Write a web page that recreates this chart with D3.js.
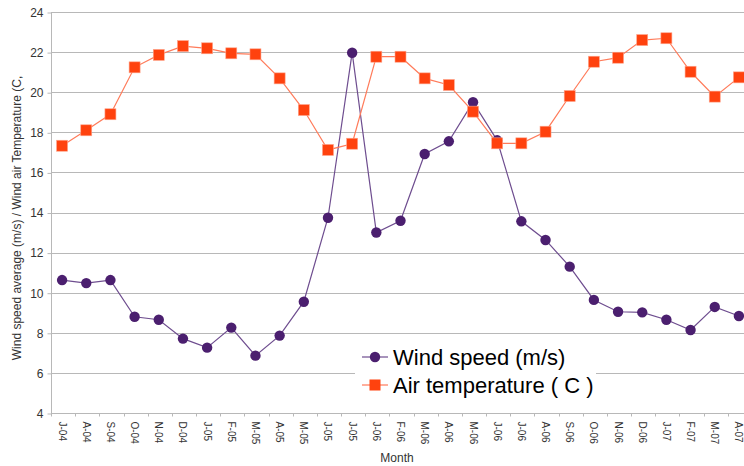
<!DOCTYPE html>
<html>
<head>
<meta charset="utf-8">
<script src="https://cdn.jsdelivr.net/npm/d3@7"></script>
<style>
  body { margin: 0; background: #fff; }
  text { font-family: "Liberation Sans", Arial, sans-serif; }
</style>
</head>
<body>
<script>
// month labels (as printed on the chart)
const months = ['J-04', 'A-04', 'S-04', 'O-04', 'N-04', 'D-04', 'J-05', 'F-05', 'M-05', 'A-05',
  'M-05', 'J-05', 'J-05', 'J-06', 'F-06', 'M-06', 'A-06', 'M-06', 'J-06', 'J-06',
  'A-06', 'S-06', 'O-06', 'N-06', 'D-06', 'J-07', 'F-07', 'M-07', 'A-07'];

// wind speed (m/s)
const windSpeed = [10.63, 10.48, 10.63, 8.8, 8.65, 7.71, 7.26, 8.26, 6.86, 7.86,
  9.55, 13.74, 21.97, 13.0, 13.59, 16.92, 17.55, 19.5, 17.6, 13.56,
  12.63, 11.3, 9.64, 9.05, 9.02, 8.65, 8.14, 9.29, 8.84];

// air temperature (C)
const airTemp = [17.33, 18.1, 18.9, 21.24, 21.86, 22.3, 22.19, 21.94, 21.89, 20.69,
  19.11, 17.12, 17.43, 21.77, 21.77, 20.69, 20.36, 19.03, 17.45, 17.45,
  18.03, 19.81, 21.52, 21.72, 22.6, 22.69, 21.02, 19.78, 20.74];

const yTicks = [4, 6, 8, 10, 12, 14, 16, 18, 20, 22, 24];

const width = 744;
const height = 466;
const margin = {top: 12, right: -8, bottom: 53, left: 51};

const svg = d3.select('body')
  .append('svg')
  .attr('width', width)
  .attr('height', height);

const xScale = d3.scaleBand()
  .domain(d3.range(months.length))
  .range([margin.left, width - margin.right]);

const yScale = d3.scaleLinear()
  .domain([4, 24])
  .range([height - margin.bottom, margin.top]);

// points sit about a pixel left of the band centre
const cx = i => xScale(i) + xScale.bandwidth() / 2 - 1;

// horizontal grid lines
svg.append('g')
  .selectAll('line')
  .data(yTicks)
  .join('line')
  .attr('x1', margin.left)
  .attr('x2', width - margin.right)
  .attr('y1', d => Math.round(yScale(d)) + 0.5)
  .attr('y2', d => Math.round(yScale(d)) + 0.5)
  .style('stroke', '#b8b8b8');

// y axis
const yAxis = d3.axisLeft(yScale).tickValues(yTicks).tickSize(4).tickPadding(4);
const gy = svg.append('g')
  .attr('transform', `translate(${margin.left + 0.5},0.5)`)
  .call(yAxis);
gy.selectAll('line, path').style('stroke', '#b8b8b8');
gy.selectAll('text').style('font-size', '12px').style('fill', '#333')
  .style('font-family', '"Liberation Sans", Arial, sans-serif');
gy.select('.domain').attr('d', `M0,${yScale(4)}V${yScale(24)}`);

// x axis: labels at band centres, small ticks at band edges
const xAxis = d3.axisBottom(xScale).tickFormat(i => months[i]).tickSize(0);
const gx = svg.append('g')
  .attr('transform', `translate(0,${Math.round(yScale(4)) + 0.5})`)
  .call(xAxis);
gx.select('.domain').remove();
gx.selectAll('.tick').attr('transform', i => `translate(${cx(i)},0)`);
gx.selectAll('text')
  .attr('x', 8)
  .attr('y', 0)
  .attr('dy', '0.35em')
  .attr('transform', 'rotate(90)')
  .style('text-anchor', 'start')
  .style('font-size', '10px')
  .style('fill', '#333')
  .style('font-family', '"Liberation Sans", Arial, sans-serif');

gx.append('g')
  .selectAll('line')
  .data(d3.range(months.length + 1))
  .join('line')
  .attr('x1', i => Math.round(margin.left + i * xScale.step()) + 0.5)
  .attr('x2', i => Math.round(margin.left + i * xScale.step()) + 0.5)
  .attr('y1', 0)
  .attr('y2', 3)
  .style('stroke', '#b8b8b8');

// wind speed series
const line = d3.line().x((d, i) => cx(i)).y(d => yScale(d));

svg.append('path')
  .datum(windSpeed)
  .attr('d', line)
  .style('fill', 'none')
  .style('stroke', '#6e4d8f')
  .style('stroke-width', 1.2);

svg.append('g')
  .selectAll('circle')
  .data(windSpeed)
  .join('circle')
  .attr('cx', (d, i) => cx(i))
  .attr('cy', d => yScale(d))
  .attr('r', 5.2)
  .style('fill', '#4b1f6f');

// air temperature series
svg.append('path')
  .datum(airTemp)
  .attr('d', line)
  .style('fill', 'none')
  .style('stroke', '#ff7b5a')
  .style('stroke-width', 1.2);

svg.append('g')
  .selectAll('rect')
  .data(airTemp)
  .join('rect')
  .attr('x', (d, i) => cx(i) - 5.5)
  .attr('y', d => yScale(d) - 5.5)
  .attr('width', 11)
  .attr('height', 11)
  .style('fill', '#ff420e')
  .style('stroke', '#ffa58c')
  .style('stroke-width', 0.6);

// legend
const legend = svg.append('g');
legend.append('rect')
  .attr('x', 355)
  .attr('y', 338)
  .attr('width', 241)
  .attr('height', 62)
  .style('fill', '#fff');

const legendItems = [
  {label: 'Wind speed (m/s)', color: '#4b1f6f', lineColor: '#6e4d8f', shape: 'circle', y: 357},
  {label: 'Air temperature ( C )', color: '#ff420e', lineColor: '#ff7b5a', shape: 'square', y: 385}
];

legendItems.forEach(item => {
  legend.append('line')
    .attr('x1', 362).attr('x2', 388)
    .attr('y1', item.y).attr('y2', item.y)
    .style('stroke', item.lineColor)
    .style('stroke-width', 1.2);
  if (item.shape == 'circle') {
    legend.append('circle')
      .attr('cx', 375).attr('cy', item.y).attr('r', 5.2)
      .style('fill', item.color);
  } else {
    legend.append('rect')
      .attr('x', 369.5).attr('y', item.y - 5.5)
      .attr('width', 11).attr('height', 11)
      .style('fill', item.color);
  }
  legend.append('text')
    .attr('x', 393)
    .attr('y', item.y)
    .attr('dy', '0.36em')
    .style('font-size', '22px')
    .style('fill', '#000')
    .text(item.label);
});

// axis titles
svg.append('text')
  .attr('transform', `translate(21,${218}) rotate(-90)`)
  .style('text-anchor', 'middle')
  .style('font-size', '12px')
  .style('fill', '#333')
  .text('Wind speed average (m/s) / Wind air Temperature (C,');

svg.append('text')
  .attr('x', 397)
  .attr('y', 462)
  .style('text-anchor', 'middle')
  .style('font-size', '12px')
  .style('fill', '#333')
  .text('Month');
</script>
</body>
</html>
